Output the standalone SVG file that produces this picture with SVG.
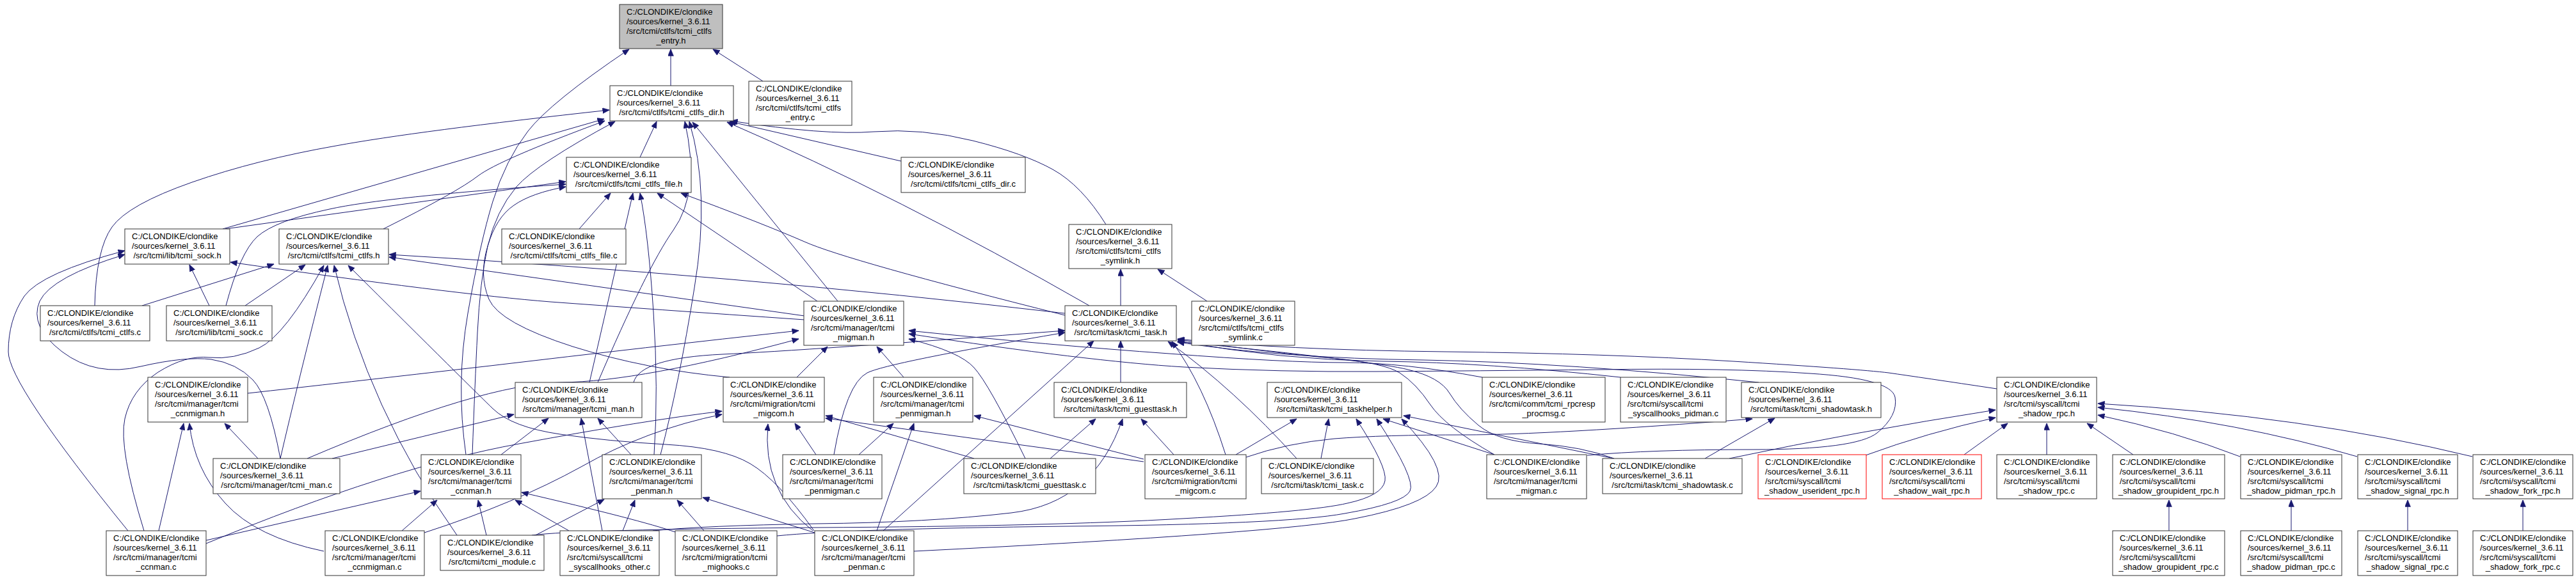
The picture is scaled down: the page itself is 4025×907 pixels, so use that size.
<svg xmlns="http://www.w3.org/2000/svg" width="4025" height="907" viewBox="0 0 4025 907">
<style>
rect{fill:#fff;stroke:#333;stroke-width:1}
.root rect{fill:#bfbfbf}
.red rect{stroke:#f00}
text{font-family:"Liberation Sans",Arial,Helvetica,sans-serif;font-size:13px;fill:#000}
.c{text-anchor:middle}
#edges path{fill:none;stroke:#191970;stroke-width:1;marker-end:url(#a)}
</style>
<defs>
<marker id="a" markerWidth="11" markerHeight="9" refX="10.5" refY="4.5" orient="auto" markerUnits="userSpaceOnUse" viewBox="0 0 11 9"><path d="M0,0 L11,4.5 L0,9 z" fill="#191970" stroke="#191970" stroke-width="0.5"/></marker>
</defs>
<rect x="0" y="0" width="4025" height="907" style="fill:#fff;stroke:none"/>
<g id="edges">
<path d="M1048,134 L1048,77"/>
<path d="M1192,127 L1114,77"/>
<path d="M728,711 Q712,600 731,490 Q750,380 770,315 Q790,250 825,205 Q860,160 983,77"/>
<path d="M1000,246 L1026,190"/>
<path d="M148,478 Q150,390 175,355 Q200,320 300,285 Q400,250 525,228 Q650,205 952,172"/>
<path d="M348,358 L944,186"/>
<path d="M599,358 Q715,300 747,275 Q780,250 945,189"/>
<path d="M738,711 Q742,600 746,520 Q750,440 762,385 Q775,330 807,292 Q840,255 961,190"/>
<path d="M1032,711 Q1061,600 1085,450 Q1110,300 1077,190"/>
<path d="M934,598 Q1010,420 1052,360 Q1095,300 1070,190"/>
<path d="M1309,471 L1082,191"/>
<path d="M1702,478 Q1400,305 1136,191"/>
<path d="M1408,252 L1140,190"/>
<path d="M1728,351 Q1690,290 1645,265 Q1600,240 1520,220 Q1440,200 1365,206 Q1290,212 1142,189"/>
<path d="M352,358 L884,284"/>
<path d="M353,478 Q375,395 402,370 Q430,345 515,327 Q600,308 884,288"/>
<path d="M1140,590 Q1010,578 895,542 Q780,505 764,468 Q748,430 762,385 Q775,340 803,321 Q830,302 884,292"/>
<path d="M905,358 L954,302"/>
<path d="M921,598 L989,302"/>
<path d="M1022,711 Q1029,610 1021,488 Q1013,367 1000,302"/>
<path d="M1277,471 L1027,302"/>
<path d="M1664,493 Q1322,407 1257,378 Q1193,350 1064,302"/>
<path d="M1751,478 L1751,421"/>
<path d="M1886,471 L1809,421"/>
<path d="M222,478 L428,413"/>
<path d="M383,478 L477,414"/>
<path d="M327,478 L296,414"/>
<path d="M1257,494 L608,402"/>
<path d="M1664,490 Q1150,430 608,398"/>
<path d="M1257,500 Q1010,483 860,472 Q709,460 360,410"/>
<path d="M200,830 Q13,600 13,550 Q13,500 38,463 Q64,427 195,392"/>
<path d="M438,717 Q420,620 395,594 Q370,568 330,562 Q290,557 220,573 Q150,590 97,550 Q45,510 62,471 Q80,433 195,398"/>
<path d="M225,830 Q185,700 195,655 Q205,610 247,582 Q290,555 327,559 Q365,563 405,544 Q445,525 506,415"/>
<path d="M438,717 Q465,600 512,415"/>
<path d="M714,837 Q575,640 522,415"/>
<path d="M1272,830 Q1215,750 1172,725 Q1130,700 1040,695 Q950,690 875,679 Q800,668 770,639 Q740,610 544,415"/>
<path d="M248,830 L287,662"/>
<path d="M506,862 Q400,840 352,787 Q303,733 296,662"/>
<path d="M403,717 L351,662"/>
<path d="M387,615 Q522,600 766,572 Q1010,543 1248,517"/>
<path d="M480,717 Q754,600 877,598 Q1000,597 1248,530"/>
<path d="M1245,590 L1293,542"/>
<path d="M1412,590 L1370,542"/>
<path d="M2316,590 Q2193,567 2101,567 Q2010,567 1827,553 Q1644,540 1420,517"/>
<path d="M1602,717 Q1545,600 1522,575 Q1500,550 1420,530"/>
<path d="M990,598 Q1000,560 1129,554 Q1258,548 1664,517"/>
<path d="M1303,711 Q1322,600 1355,583 Q1387,567 1664,520"/>
<path d="M1380,830 L1709,533"/>
<path d="M1751,598 L1751,533"/>
<path d="M2026,717 Q1930,610 1825,534"/>
<path d="M1915,711 Q1880,600 1831,534"/>
<path d="M2064,717 L2076,655"/>
<path d="M1931,711 L2026,655"/>
<path d="M1947,715 Q2010,693 2085,686 Q2161,680 2290,680 Q2418,680 2738,655"/>
<path d="M2335,711 L2161,655"/>
<path d="M2522,717 L2193,650"/>
<path d="M831,837 Q900,828 1272,825 Q1644,823 1847,811 Q2050,800 2105,787 Q2160,775 2164,752 Q2168,730 2119,655"/>
<path d="M1214,838 Q1322,827 1666,823 Q2010,820 2101,803 Q2193,787 2203,768 Q2213,750 2151,655"/>
<path d="M1428,862 Q2010,833 2117,811 Q2225,790 2244,761 Q2264,733 2190,655"/>
<path d="M1020,830 Q1100,822 1275,819 Q1451,817 1580,802 Q1709,787 1754,655"/>
<path d="M1641,717 L1712,655"/>
<path d="M1834,711 L1783,655"/>
<path d="M322,850 Q612,730 811,694 Q1010,657 1128,643"/>
<path d="M663,833 Q805,787 908,730 Q1010,672 1128,648"/>
<path d="M1270,830 Q1190,767 1200,663"/>
<path d="M1275,711 L1242,662"/>
<path d="M1522,717 L1290,650"/>
<path d="M1787,722 L1290,654"/>
<path d="M1342,711 L1396,662"/>
<path d="M1370,830 L1428,662"/>
<path d="M1787,718 L1522,650"/>
<path d="M831,840 L944,781"/>
<path d="M973,830 L992,782"/>
<path d="M1100,830 L1058,782"/>
<path d="M1273,833 L1098,778"/>
<path d="M322,845 L657,768"/>
<path d="M628,830 L683,782"/>
<path d="M760,837 L747,782"/>
<path d="M889,830 L805,782"/>
<path d="M1055,832 Q1000,813 815,770"/>
<path d="M519,717 L803,648"/>
<path d="M783,711 L857,654"/>
<path d="M941,830 L908,654"/>
<path d="M986,711 L934,654"/>
<path d="M2664,717 L2773,654"/>
<path d="M2702,717 Q2900,675 3118,641"/>
<path d="M2915,712 Q3010,677 3118,653"/>
<path d="M3069,711 L3137,662"/>
<path d="M3198,711 L3198,662"/>
<path d="M3333,711 L3261,662"/>
<path d="M3500,714 Q3400,675 3278,649"/>
<path d="M3683,714 Q3500,660 3278,637"/>
<path d="M3863,714 Q3600,650 3278,631"/>
<path d="M3389,830 L3389,782"/>
<path d="M3580,830 L3580,782"/>
<path d="M3762,830 L3762,782"/>
<path d="M3942,830 L3942,782"/>
<path d="M3120,608 Q3000,590 2951,583 Q2902,577 2708,565 Q2515,553 2257,550 Q2000,547 1840,530"/>
<path d="M2532,590 Q2322,567 2161,565 Q2000,563 1840,533"/>
<path d="M2748,598 Q2450,567 2225,563 Q2000,560 1840,535"/>
<path d="M2335,711 Q2258,667 2235,633 Q2213,600 2187,583 Q2161,567 2080,560 Q2000,553 1840,531"/>
<path d="M2522,717 Q2470,698 2405,694 Q2340,690 2310,665 Q2280,640 2265,615 Q2250,590 2200,578 Q2150,565 1840,534"/>
<path d="M2480,712 Q2580,703 2740,703 Q2900,703 2933,677 Q2966,650 2961,621 Q2955,592 2828,584 Q2700,575 2500,578 Q2300,580 2150,581 Q2000,582 1850,574 Q1700,565 1420,522"/>
</g>
<g id="n_entry_h" class="root"><rect x="968" y="7" width="161" height="69"/><text x="979" y="23">C:/CLONDIKE/clondike</text><text x="979" y="38">/sources/kernel_3.6.11</text><text x="979" y="53">/src/tcmi/ctlfs/tcmi_ctlfs</text><text class="c" x="1048.5" y="68">_entry.h</text></g>
<g id="n_ctlfs_dir_h"><rect x="953" y="134" width="193" height="55"/><text x="964" y="150">C:/CLONDIKE/clondike</text><text x="964" y="165">/sources/kernel_3.6.11</text><text class="c" x="1049.5" y="180">/src/tcmi/ctlfs/tcmi_ctlfs_dir.h</text></g>
<g id="n_ctlfs_entry_c"><rect x="1170" y="127" width="161" height="69"/><text x="1181" y="143">C:/CLONDIKE/clondike</text><text x="1181" y="158">/sources/kernel_3.6.11</text><text x="1181" y="173">/src/tcmi/ctlfs/tcmi_ctlfs</text><text class="c" x="1250.5" y="188">_entry.c</text></g>
<g id="n_ctlfs_file_h"><rect x="885" y="246" width="195" height="55"/><text x="896" y="262">C:/CLONDIKE/clondike</text><text x="896" y="277">/sources/kernel_3.6.11</text><text class="c" x="982.5" y="292">/src/tcmi/ctlfs/tcmi_ctlfs_file.h</text></g>
<g id="n_ctlfs_dir_c"><rect x="1408" y="246" width="194" height="55"/><text x="1419" y="262">C:/CLONDIKE/clondike</text><text x="1419" y="277">/sources/kernel_3.6.11</text><text class="c" x="1505" y="292">/src/tcmi/ctlfs/tcmi_ctlfs_dir.c</text></g>
<g id="n_ctlfs_symlink_h"><rect x="1670" y="351" width="161" height="69"/><text x="1681" y="367">C:/CLONDIKE/clondike</text><text x="1681" y="382">/sources/kernel_3.6.11</text><text x="1681" y="397">/src/tcmi/ctlfs/tcmi_ctlfs</text><text class="c" x="1750.5" y="412">_symlink.h</text></g>
<g id="n_sock_h"><rect x="195" y="358" width="164" height="55"/><text x="206" y="374">C:/CLONDIKE/clondike</text><text x="206" y="389">/sources/kernel_3.6.11</text><text class="c" x="277" y="404">/src/tcmi/lib/tcmi_sock.h</text></g>
<g id="n_ctlfs_h"><rect x="436" y="358" width="171" height="55"/><text x="447" y="374">C:/CLONDIKE/clondike</text><text x="447" y="389">/sources/kernel_3.6.11</text><text class="c" x="521.5" y="404">/src/tcmi/ctlfs/tcmi_ctlfs.h</text></g>
<g id="n_ctlfs_file_c"><rect x="784" y="358" width="194" height="55"/><text x="795" y="374">C:/CLONDIKE/clondike</text><text x="795" y="389">/sources/kernel_3.6.11</text><text class="c" x="881" y="404">/src/tcmi/ctlfs/tcmi_ctlfs_file.c</text></g>
<g id="n_ctlfs_c"><rect x="63" y="478" width="171" height="55"/><text x="74" y="494">C:/CLONDIKE/clondike</text><text x="74" y="509">/sources/kernel_3.6.11</text><text class="c" x="148.5" y="524">/src/tcmi/ctlfs/tcmi_ctlfs.c</text></g>
<g id="n_sock_c"><rect x="260" y="478" width="165" height="55"/><text x="271" y="494">C:/CLONDIKE/clondike</text><text x="271" y="509">/sources/kernel_3.6.11</text><text class="c" x="342.5" y="524">/src/tcmi/lib/tcmi_sock.c</text></g>
<g id="n_migman_h"><rect x="1256" y="471" width="156" height="69"/><text x="1267" y="487">C:/CLONDIKE/clondike</text><text x="1267" y="502">/sources/kernel_3.6.11</text><text x="1267" y="517">/src/tcmi/manager/tcmi</text><text class="c" x="1334" y="532">_migman.h</text></g>
<g id="n_task_h"><rect x="1664" y="478" width="174" height="55"/><text x="1675" y="494">C:/CLONDIKE/clondike</text><text x="1675" y="509">/sources/kernel_3.6.11</text><text class="c" x="1751" y="524">/src/tcmi/task/tcmi_task.h</text></g>
<g id="n_ctlfs_symlink_c"><rect x="1862" y="471" width="161" height="69"/><text x="1873" y="487">C:/CLONDIKE/clondike</text><text x="1873" y="502">/sources/kernel_3.6.11</text><text x="1873" y="517">/src/tcmi/ctlfs/tcmi_ctlfs</text><text class="c" x="1942.5" y="532">_symlink.c</text></g>
<g id="n_ccnmigman_h"><rect x="231" y="590" width="156" height="70"/><text x="242" y="606">C:/CLONDIKE/clondike</text><text x="242" y="621">/sources/kernel_3.6.11</text><text x="242" y="636">/src/tcmi/manager/tcmi</text><text class="c" x="309" y="651">_ccnmigman.h</text></g>
<g id="n_man_h"><rect x="805" y="598" width="198" height="55"/><text x="816" y="614">C:/CLONDIKE/clondike</text><text x="816" y="629">/sources/kernel_3.6.11</text><text class="c" x="904" y="644">/src/tcmi/manager/tcmi_man.h</text></g>
<g id="n_migcom_h"><rect x="1130" y="590" width="158" height="70"/><text x="1141" y="606">C:/CLONDIKE/clondike</text><text x="1141" y="621">/sources/kernel_3.6.11</text><text x="1141" y="636">/src/tcmi/migration/tcmi</text><text class="c" x="1209" y="651">_migcom.h</text></g>
<g id="n_penmigman_h"><rect x="1365" y="590" width="155" height="70"/><text x="1376" y="606">C:/CLONDIKE/clondike</text><text x="1376" y="621">/sources/kernel_3.6.11</text><text x="1376" y="636">/src/tcmi/manager/tcmi</text><text class="c" x="1442.5" y="651">_penmigman.h</text></g>
<g id="n_guesttask_h"><rect x="1647" y="598" width="207" height="55"/><text x="1658" y="614">C:/CLONDIKE/clondike</text><text x="1658" y="629">/sources/kernel_3.6.11</text><text class="c" x="1750.5" y="644">/src/tcmi/task/tcmi_guesttask.h</text></g>
<g id="n_taskhelper_h"><rect x="1980" y="598" width="210" height="55"/><text x="1991" y="614">C:/CLONDIKE/clondike</text><text x="1991" y="629">/sources/kernel_3.6.11</text><text class="c" x="2085" y="644">/src/tcmi/task/tcmi_taskhelper.h</text></g>
<g id="n_rpcresp_procmsg_c"><rect x="2316" y="590" width="192" height="70"/><text x="2327" y="606">C:/CLONDIKE/clondike</text><text x="2327" y="621">/sources/kernel_3.6.11</text><text x="2327" y="636">/src/tcmi/comm/tcmi_rpcresp</text><text class="c" x="2412" y="651">_procmsg.c</text></g>
<g id="n_syscallhooks_pidman_c"><rect x="2532" y="590" width="165" height="70"/><text x="2543" y="606">C:/CLONDIKE/clondike</text><text x="2543" y="621">/sources/kernel_3.6.11</text><text x="2543" y="636">/src/tcmi/syscall/tcmi</text><text class="c" x="2614.5" y="651">_syscallhooks_pidman.c</text></g>
<g id="n_shadowtask_h"><rect x="2721" y="598" width="218" height="55"/><text x="2732" y="614">C:/CLONDIKE/clondike</text><text x="2732" y="629">/sources/kernel_3.6.11</text><text class="c" x="2830" y="644">/src/tcmi/task/tcmi_shadowtask.h</text></g>
<g id="n_shadow_rpc_h"><rect x="3120" y="590" width="156" height="70"/><text x="3131" y="606">C:/CLONDIKE/clondike</text><text x="3131" y="621">/sources/kernel_3.6.11</text><text x="3131" y="636">/src/tcmi/syscall/tcmi</text><text class="c" x="3198" y="651">_shadow_rpc.h</text></g>
<g id="n_man_c"><rect x="333" y="717" width="198" height="55"/><text x="344" y="733">C:/CLONDIKE/clondike</text><text x="344" y="748">/sources/kernel_3.6.11</text><text class="c" x="432" y="763">/src/tcmi/manager/tcmi_man.c</text></g>
<g id="n_ccnman_h"><rect x="658" y="711" width="156" height="69"/><text x="669" y="727">C:/CLONDIKE/clondike</text><text x="669" y="742">/sources/kernel_3.6.11</text><text x="669" y="757">/src/tcmi/manager/tcmi</text><text class="c" x="736" y="772">_ccnman.h</text></g>
<g id="n_penman_h"><rect x="941" y="711" width="155" height="69"/><text x="952" y="727">C:/CLONDIKE/clondike</text><text x="952" y="742">/sources/kernel_3.6.11</text><text x="952" y="757">/src/tcmi/manager/tcmi</text><text class="c" x="1018.5" y="772">_penman.h</text></g>
<g id="n_penmigman_c"><rect x="1223" y="711" width="155" height="69"/><text x="1234" y="727">C:/CLONDIKE/clondike</text><text x="1234" y="742">/sources/kernel_3.6.11</text><text x="1234" y="757">/src/tcmi/manager/tcmi</text><text class="c" x="1300.5" y="772">_penmigman.c</text></g>
<g id="n_guesttask_c"><rect x="1506" y="717" width="206" height="55"/><text x="1517" y="733">C:/CLONDIKE/clondike</text><text x="1517" y="748">/sources/kernel_3.6.11</text><text class="c" x="1609" y="763">/src/tcmi/task/tcmi_guesttask.c</text></g>
<g id="n_migcom_c"><rect x="1789" y="711" width="158" height="69"/><text x="1800" y="727">C:/CLONDIKE/clondike</text><text x="1800" y="742">/sources/kernel_3.6.11</text><text x="1800" y="757">/src/tcmi/migration/tcmi</text><text class="c" x="1868" y="772">_migcom.c</text></g>
<g id="n_task_c"><rect x="1971" y="717" width="175" height="55"/><text x="1982" y="733">C:/CLONDIKE/clondike</text><text x="1982" y="748">/sources/kernel_3.6.11</text><text class="c" x="2058.5" y="763">/src/tcmi/task/tcmi_task.c</text></g>
<g id="n_migman_c"><rect x="2323" y="711" width="156" height="69"/><text x="2334" y="727">C:/CLONDIKE/clondike</text><text x="2334" y="742">/sources/kernel_3.6.11</text><text x="2334" y="757">/src/tcmi/manager/tcmi</text><text class="c" x="2401" y="772">_migman.c</text></g>
<g id="n_shadowtask_c"><rect x="2504" y="717" width="218" height="55"/><text x="2515" y="733">C:/CLONDIKE/clondike</text><text x="2515" y="748">/sources/kernel_3.6.11</text><text class="c" x="2613" y="763">/src/tcmi/task/tcmi_shadowtask.c</text></g>
<g id="n_shadow_userident_rpc_h" class="red"><rect x="2747" y="711" width="169" height="69"/><text x="2758" y="727">C:/CLONDIKE/clondike</text><text x="2758" y="742">/sources/kernel_3.6.11</text><text x="2758" y="757">/src/tcmi/syscall/tcmi</text><text class="c" x="2831.5" y="772">_shadow_userident_rpc.h</text></g>
<g id="n_shadow_wait_rpc_h" class="red"><rect x="2941" y="711" width="155" height="69"/><text x="2952" y="727">C:/CLONDIKE/clondike</text><text x="2952" y="742">/sources/kernel_3.6.11</text><text x="2952" y="757">/src/tcmi/syscall/tcmi</text><text class="c" x="3018.5" y="772">_shadow_wait_rpc.h</text></g>
<g id="n_shadow_rpc_c"><rect x="3120" y="711" width="156" height="69"/><text x="3131" y="727">C:/CLONDIKE/clondike</text><text x="3131" y="742">/sources/kernel_3.6.11</text><text x="3131" y="757">/src/tcmi/syscall/tcmi</text><text class="c" x="3198" y="772">_shadow_rpc.c</text></g>
<g id="n_shadow_groupident_rpc_h"><rect x="3301" y="711" width="175" height="69"/><text x="3312" y="727">C:/CLONDIKE/clondike</text><text x="3312" y="742">/sources/kernel_3.6.11</text><text x="3312" y="757">/src/tcmi/syscall/tcmi</text><text class="c" x="3388.5" y="772">_shadow_groupident_rpc.h</text></g>
<g id="n_shadow_pidman_rpc_h"><rect x="3501" y="711" width="158" height="69"/><text x="3512" y="727">C:/CLONDIKE/clondike</text><text x="3512" y="742">/sources/kernel_3.6.11</text><text x="3512" y="757">/src/tcmi/syscall/tcmi</text><text class="c" x="3580" y="772">_shadow_pidman_rpc.h</text></g>
<g id="n_shadow_signal_rpc_h"><rect x="3684" y="711" width="156" height="69"/><text x="3695" y="727">C:/CLONDIKE/clondike</text><text x="3695" y="742">/sources/kernel_3.6.11</text><text x="3695" y="757">/src/tcmi/syscall/tcmi</text><text class="c" x="3762" y="772">_shadow_signal_rpc.h</text></g>
<g id="n_shadow_fork_rpc_h"><rect x="3864" y="711" width="156" height="69"/><text x="3875" y="727">C:/CLONDIKE/clondike</text><text x="3875" y="742">/sources/kernel_3.6.11</text><text x="3875" y="757">/src/tcmi/syscall/tcmi</text><text class="c" x="3942" y="772">_shadow_fork_rpc.h</text></g>
<g id="n_ccnman_c"><rect x="166" y="830" width="156" height="70"/><text x="177" y="846">C:/CLONDIKE/clondike</text><text x="177" y="861">/sources/kernel_3.6.11</text><text x="177" y="876">/src/tcmi/manager/tcmi</text><text class="c" x="244" y="891">_ccnman.c</text></g>
<g id="n_ccnmigman_c"><rect x="508" y="830" width="155" height="70"/><text x="519" y="846">C:/CLONDIKE/clondike</text><text x="519" y="861">/sources/kernel_3.6.11</text><text x="519" y="876">/src/tcmi/manager/tcmi</text><text class="c" x="585.5" y="891">_ccnmigman.c</text></g>
<g id="n_module_c"><rect x="688" y="837" width="162" height="55"/><text x="699" y="853">C:/CLONDIKE/clondike</text><text x="699" y="868">/sources/kernel_3.6.11</text><text class="c" x="769" y="883">/src/tcmi/tcmi_module.c</text></g>
<g id="n_syscallhooks_other_c"><rect x="875" y="830" width="155" height="70"/><text x="886" y="846">C:/CLONDIKE/clondike</text><text x="886" y="861">/sources/kernel_3.6.11</text><text x="886" y="876">/src/tcmi/syscall/tcmi</text><text class="c" x="952.5" y="891">_syscallhooks_other.c</text></g>
<g id="n_mighooks_c"><rect x="1055" y="830" width="159" height="70"/><text x="1066" y="846">C:/CLONDIKE/clondike</text><text x="1066" y="861">/sources/kernel_3.6.11</text><text x="1066" y="876">/src/tcmi/migration/tcmi</text><text class="c" x="1134.5" y="891">_mighooks.c</text></g>
<g id="n_penman_c"><rect x="1273" y="830" width="155" height="70"/><text x="1284" y="846">C:/CLONDIKE/clondike</text><text x="1284" y="861">/sources/kernel_3.6.11</text><text x="1284" y="876">/src/tcmi/manager/tcmi</text><text class="c" x="1350.5" y="891">_penman.c</text></g>
<g id="n_shadow_groupident_rpc_c"><rect x="3301" y="830" width="175" height="70"/><text x="3312" y="846">C:/CLONDIKE/clondike</text><text x="3312" y="861">/sources/kernel_3.6.11</text><text x="3312" y="876">/src/tcmi/syscall/tcmi</text><text class="c" x="3388.5" y="891">_shadow_groupident_rpc.c</text></g>
<g id="n_shadow_pidman_rpc_c"><rect x="3501" y="830" width="158" height="70"/><text x="3512" y="846">C:/CLONDIKE/clondike</text><text x="3512" y="861">/sources/kernel_3.6.11</text><text x="3512" y="876">/src/tcmi/syscall/tcmi</text><text class="c" x="3580" y="891">_shadow_pidman_rpc.c</text></g>
<g id="n_shadow_signal_rpc_c"><rect x="3684" y="830" width="156" height="70"/><text x="3695" y="846">C:/CLONDIKE/clondike</text><text x="3695" y="861">/sources/kernel_3.6.11</text><text x="3695" y="876">/src/tcmi/syscall/tcmi</text><text class="c" x="3762" y="891">_shadow_signal_rpc.c</text></g>
<g id="n_shadow_fork_rpc_c"><rect x="3864" y="830" width="156" height="70"/><text x="3875" y="846">C:/CLONDIKE/clondike</text><text x="3875" y="861">/sources/kernel_3.6.11</text><text x="3875" y="876">/src/tcmi/syscall/tcmi</text><text class="c" x="3942" y="891">_shadow_fork_rpc.c</text></g>
</svg>
